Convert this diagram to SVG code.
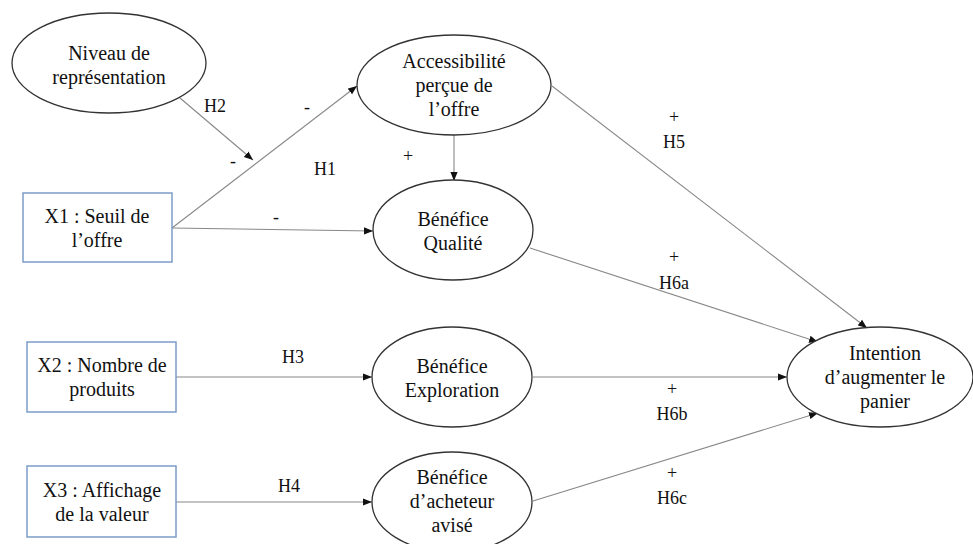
<svg xmlns="http://www.w3.org/2000/svg" width="973" height="544" viewBox="0 0 973 544">
<style>
.n ellipse{fill:#fff;stroke:#333;stroke-width:1.3}
.n rect{fill:#fff;stroke:#7c9cc7;stroke-width:1.5}
text{font-family:'Liberation Serif','Times New Roman','DejaVu Serif',serif;font-size:20px;fill:#111;text-anchor:middle}
.l{font-size:18px}
#edges line{stroke:#888;stroke-width:1.1;marker-end:url(#ah)}
</style>
<defs>
<marker id="ah" viewBox="0 0 10 10" refX="10" refY="5" markerWidth="9" markerHeight="9" markerUnits="userSpaceOnUse" orient="auto">
<path d="M0,1 L10,5 L0,9 Z" fill="#111"/>
</marker>
</defs>
<rect width="973" height="544" fill="#fff"/>
<g id="edges">
<line x1="180" y1="98" x2="253" y2="160"/>
<line x1="172" y1="228" x2="357" y2="86"/>
<line x1="172" y1="228" x2="373" y2="231"/>
<line x1="454" y1="135" x2="454" y2="181"/>
<line x1="552" y1="86" x2="867" y2="328"/>
<line x1="530" y1="248" x2="818" y2="342"/>
<line x1="533" y1="377" x2="787" y2="377"/>
<line x1="533" y1="501" x2="818" y2="413"/>
<line x1="176" y1="377" x2="372" y2="377"/>
<line x1="176" y1="502" x2="372" y2="502"/>
</g>
<g id="labels">
<text class="l" x="215" y="112">H2</text>
<text class="l" x="307" y="113">-</text>
<text class="l" x="233" y="167">-</text>
<text class="l" x="325" y="175">H1</text>
<text class="l" x="408" y="162">+</text>
<text class="l" x="276" y="223">-</text>
<text class="l" x="674" y="123">+</text>
<text class="l" x="674" y="148">H5</text>
<text class="l" x="674" y="263">+</text>
<text class="l" x="674" y="289">H6a</text>
<text class="l" x="293" y="363">H3</text>
<text class="l" x="289" y="492">H4</text>
<text class="l" x="672" y="395">+</text>
<text class="l" x="672" y="420">H6b</text>
<text class="l" x="672" y="479">+</text>
<text class="l" x="672" y="504">H6c</text>
</g>
<g id="niveau" class="n">
<ellipse cx="109" cy="63" rx="97" ry="50"/>
<text x="109" y="60">Niveau de</text>
<text x="109" y="84">représentation</text>
</g>
<g id="accessibilite" class="n">
<ellipse cx="454" cy="85" rx="97" ry="50"/>
<text x="454" y="68">Accessibilité</text>
<text x="454" y="92">perçue de</text>
<text x="454" y="116">l’offre</text>
</g>
<g id="qualite" class="n">
<ellipse cx="453" cy="230" rx="80" ry="50"/>
<text x="453" y="226">Bénéfice</text>
<text x="453" y="250">Qualité</text>
</g>
<g id="exploration" class="n">
<ellipse cx="452" cy="377" rx="80" ry="50"/>
<text x="452" y="373">Bénéfice</text>
<text x="452" y="397">Exploration</text>
</g>
<g id="acheteur" class="n">
<ellipse cx="452" cy="502" rx="80" ry="50"/>
<text x="452" y="484">Bénéfice</text>
<text x="452" y="508">d’acheteur</text>
<text x="452" y="532">avisé</text>
</g>
<g id="intention" class="n">
<ellipse cx="880" cy="377" rx="93" ry="50"/>
<text x="885" y="360">Intention</text>
<text x="885" y="384">d’augmenter le</text>
<text x="885" y="408">panier</text>
</g>
<g id="x1" class="n">
<rect x="23" y="193" width="149" height="69"/>
<text x="97" y="223">X1 : Seuil de</text>
<text x="97" y="247">l’offre</text>
</g>
<g id="x2" class="n">
<rect x="27" y="342" width="149" height="70"/>
<text x="102" y="372">X2 : Nombre de</text>
<text x="102" y="396">produits</text>
</g>
<g id="x3" class="n">
<rect x="27" y="466" width="149" height="71"/>
<text x="102" y="497">X3 : Affichage</text>
<text x="102" y="521">de la valeur</text>
</g>
</svg>
